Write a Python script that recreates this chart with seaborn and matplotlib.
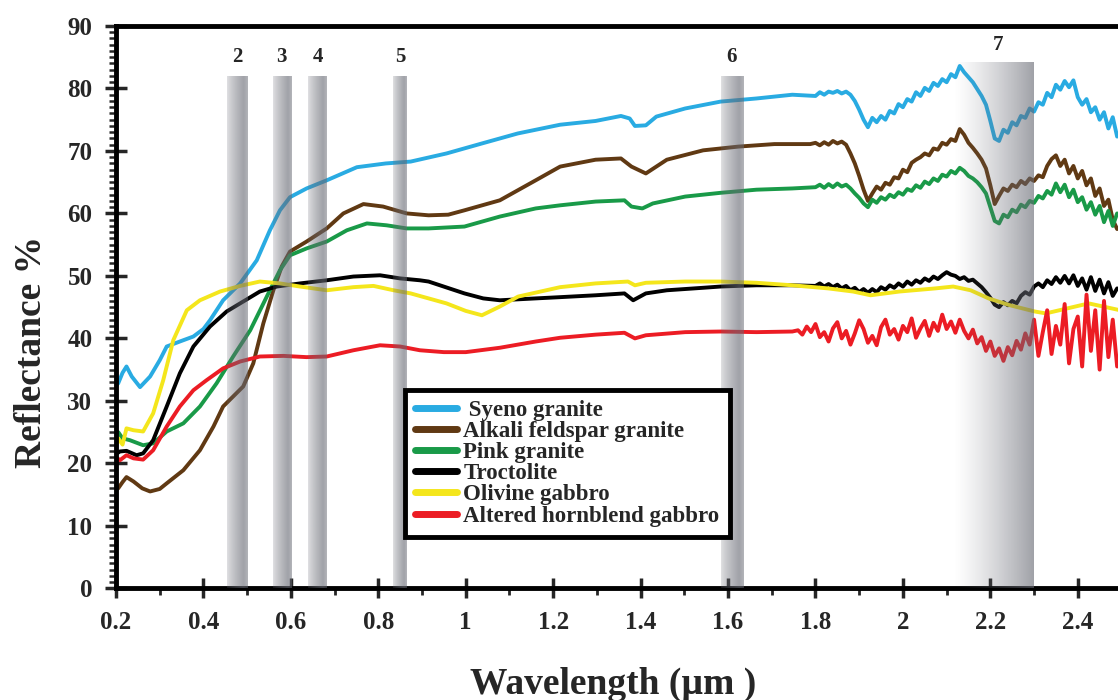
import numpy as np
import pandas as pd
import matplotlib
matplotlib.use("Agg")
import matplotlib.pyplot as plt
from matplotlib.lines import Line2D
from matplotlib.ticker import MultipleLocator, FixedLocator
import seaborn as sns

# ---------------- data ----------------
rocks = ["Syeno granite", "Alkali feldspar granite", "Pink granite",
         "Troctolite", "Olivine gabbro", "Altered hornblend gabbro"]
colors = ["#29abe2", "#603913", "#199a48", "#000000", "#f4e61c", "#ec1c24"]

syeno_wl = [0.200, 0.205, 0.215, 0.224, 0.236, 0.255, 0.278, 0.300, 0.316, 0.346, 0.377, 0.400,
            0.415, 0.445, 0.484, 0.522, 0.552, 0.575, 0.598, 0.636, 0.682, 0.751, 0.817, 0.874,
            0.956, 1.037, 1.119, 1.216, 1.297, 1.355, 1.375, 1.387, 1.412, 1.436, 1.502, 1.583,
            1.665, 1.747, 1.80, 1.81, 1.82, 1.83,
            1.84, 1.85, 1.86, 1.87, 1.88, 1.89, 1.90, 1.91, 1.92, 1.93, 1.94, 1.95, 1.96, 1.97,
            1.98, 1.99, 2.00, 2.01, 2.02, 2.03, 2.04, 2.05, 2.06, 2.07, 2.08, 2.09, 2.10, 2.11,
            2.12, 2.13, 2.14, 2.15, 2.16, 2.17, 2.18, 2.19, 2.20, 2.21, 2.22, 2.23, 2.24, 2.25,
            2.26, 2.27, 2.28, 2.29, 2.30, 2.31, 2.32, 2.33, 2.34, 2.35, 2.36, 2.37, 2.38, 2.39,
            2.40, 2.41, 2.42, 2.43, 2.44, 2.45, 2.46, 2.47, 2.48, 2.49]
syeno_refl = [32.5, 32.8, 34.5, 35.5, 33.9, 32.2, 33.9, 36.5, 38.7, 39.5, 40.3, 41.5,
              42.9, 46.1, 48.8, 52.5, 57.3, 60.5, 62.6, 64.0, 65.3, 67.4, 68.0, 68.3,
              69.6, 71.2, 72.8, 74.2, 74.8, 75.6, 75.2, 74.0, 74.1, 75.5, 76.8, 77.9,
              78.4, 79.0, 78.8, 79.4, 79.0, 79.5,
              79.3, 79.6, 79.2, 79.5, 79.0, 78.0, 76.6, 75.0, 73.8, 75.3, 74.6, 75.6, 75.0, 76.4,
              76.0, 77.5, 77.0, 78.3, 77.9, 79.4, 78.8, 80.1, 79.6, 80.9, 80.4, 81.5, 81.0, 82.3,
              81.8, 83.6, 82.6, 81.8, 81.0, 79.9, 78.8, 77.4, 74.8, 72.0, 71.6, 73.4, 72.9, 74.6,
              74.1, 75.6, 75.3, 76.8, 76.3, 77.8, 77.4, 79.3, 78.6, 80.6, 79.8, 81.2, 80.2, 81.3,
              78.6, 77.4, 78.3, 76.2, 77.0, 75.0, 76.2, 73.6, 75.4, 72.3]

alkali_wl = [0.200, 0.205, 0.215, 0.224, 0.240, 0.260, 0.278, 0.300, 0.316, 0.354, 0.392, 0.423,
             0.445, 0.468, 0.491, 0.514, 0.537, 0.560, 0.579, 0.598, 0.636, 0.682, 0.720, 0.766,
             0.811, 0.865, 0.915, 0.960, 0.997, 1.078, 1.160, 1.216, 1.297, 1.355, 1.379, 1.412,
             1.460, 1.543, 1.624, 1.706, 1.788,
             1.80, 1.81, 1.82, 1.83, 1.84, 1.85, 1.86, 1.87, 1.88, 1.89, 1.90, 1.91, 1.92, 1.93,
             1.94, 1.95, 1.96, 1.97, 1.98, 1.99, 2.00, 2.01, 2.02, 2.03, 2.04, 2.05, 2.06, 2.07,
             2.08, 2.09, 2.10, 2.11, 2.12, 2.13, 2.14, 2.15, 2.16, 2.17, 2.18, 2.19, 2.20, 2.21,
             2.22, 2.23, 2.24, 2.25, 2.26, 2.27, 2.28, 2.29, 2.30, 2.31, 2.32, 2.33, 2.34, 2.35,
             2.36, 2.37, 2.38, 2.39, 2.40, 2.41, 2.42, 2.43, 2.44, 2.45, 2.46, 2.47, 2.48, 2.49]
alkali_refl = [15.8, 16.0, 17.0, 17.8, 17.1, 16.0, 15.5, 15.9, 16.8, 18.9, 22.1, 25.9,
               29.1, 30.7, 32.3, 36.0, 42.4, 47.7, 51.5, 53.9, 55.5, 57.6, 60.0, 61.5,
               61.1, 60.0, 59.7, 59.8, 60.5, 62.1, 65.3, 67.5, 68.6, 68.8, 67.5, 66.4,
               68.6, 70.1, 70.7, 71.1, 71.1,
               71.3, 70.9, 71.4, 71.0, 71.6, 71.2, 71.5, 71.0, 69.6, 68.0, 66.0, 63.8, 62.0, 63.2,
               64.3, 63.8, 64.9, 64.6, 65.8, 65.6, 67.0, 66.6, 68.1, 68.6, 69.0, 69.6, 69.3, 70.4,
               70.2, 71.3, 71.0, 71.9, 71.6, 73.5, 72.6, 71.3, 70.5, 69.6, 68.6, 67.2, 64.5, 61.5,
               62.8, 64.0, 63.6, 64.6, 64.2, 65.2, 64.7, 65.6, 65.2, 66.1, 65.8, 67.6, 68.7, 69.3,
               67.6, 68.6, 66.4, 67.6, 65.6, 66.8, 64.5, 65.6, 62.8, 64.0, 61.2, 62.2, 59.0, 57.5]

pink_wl = [0.200, 0.205, 0.215, 0.232, 0.262, 0.285, 0.316, 0.354, 0.392, 0.430, 0.468, 0.507,
           0.545, 0.575, 0.598, 0.636, 0.682, 0.728, 0.774, 0.819, 0.865, 0.915, 0.997, 1.078,
           1.160, 1.216, 1.297, 1.363, 1.379, 1.404, 1.428, 1.502, 1.583, 1.665, 1.747,
           1.80, 1.81, 1.82, 1.83, 1.84, 1.85, 1.86, 1.87, 1.88, 1.89, 1.90, 1.91, 1.92, 1.93,
           1.94, 1.95, 1.96, 1.97, 1.98, 1.99, 2.00, 2.01, 2.02, 2.03, 2.04, 2.05, 2.06, 2.07,
           2.08, 2.09, 2.10, 2.11, 2.12, 2.13, 2.14, 2.15, 2.16, 2.17, 2.18, 2.19, 2.20, 2.21,
           2.22, 2.23, 2.24, 2.25, 2.26, 2.27, 2.28, 2.29, 2.30, 2.31, 2.32, 2.33, 2.34, 2.35,
           2.36, 2.37, 2.38, 2.39, 2.40, 2.41, 2.42, 2.43, 2.44, 2.45, 2.46, 2.47, 2.48, 2.49]
pink_refl = [24.5, 25.0, 24.0, 23.7, 22.9, 23.2, 25.1, 26.4, 29.1, 32.8, 37.1, 41.3,
             46.7, 50.9, 53.3, 54.4, 55.5, 57.3, 58.4, 58.1, 57.6, 57.6, 57.9, 59.5,
             60.8, 61.3, 61.9, 62.1, 61.1, 60.8, 61.6, 62.7, 63.3, 63.8, 64.0,
             64.2, 64.6, 64.1, 64.7, 64.2, 64.8, 64.3, 64.6, 64.0, 63.2, 62.5, 61.6, 61.0, 62.2,
             61.7, 62.6, 62.2, 63.0, 62.6, 63.4, 63.0, 63.9, 63.6, 64.5, 64.1, 65.1, 64.7, 65.6,
             65.2, 66.2, 65.9, 66.8, 66.4, 67.3, 66.8, 66.0, 65.6, 65.0, 64.2, 63.2, 61.0, 58.8,
             58.4, 59.8, 59.4, 60.6, 60.2, 61.4, 61.0, 62.0, 61.7, 62.8, 62.4, 63.6, 63.0, 64.8,
             63.4, 64.6, 62.6, 63.8, 61.8, 62.6, 60.6, 61.8, 59.8, 61.2, 58.6, 60.4, 58.0, 60.0]

troct_wl = [0.200, 0.209, 0.224, 0.247, 0.262, 0.285, 0.316, 0.346, 0.377, 0.415, 0.453, 0.491,
            0.529, 0.568, 0.621, 0.682, 0.743, 0.804, 0.850, 0.895, 0.915, 0.997, 1.040, 1.078,
            1.160, 1.216, 1.297, 1.363, 1.383, 1.412, 1.460, 1.543, 1.583, 1.665, 1.747,
            1.80, 1.81, 1.82, 1.83, 1.84, 1.85, 1.86, 1.87, 1.88, 1.89, 1.90, 1.91, 1.92, 1.93,
            1.94, 1.95, 1.96, 1.97, 1.98, 1.99, 2.00, 2.01, 2.02, 2.03, 2.04, 2.05, 2.06, 2.07,
            2.08, 2.09, 2.10, 2.11, 2.12, 2.13, 2.14, 2.15, 2.16, 2.17, 2.18, 2.19, 2.20, 2.21,
            2.22, 2.23, 2.24, 2.25, 2.26, 2.27, 2.28, 2.29, 2.30, 2.31, 2.32, 2.33, 2.34, 2.35,
            2.36, 2.37, 2.38, 2.39, 2.40, 2.41, 2.42, 2.43, 2.44, 2.45, 2.46, 2.47, 2.48, 2.49]
troct_refl = [21.5, 21.9, 22.0, 21.3, 21.6, 23.7, 29.1, 34.4, 38.7, 41.9, 44.3, 45.9,
              47.5, 48.3, 48.8, 49.3, 49.9, 50.1, 49.6, 49.3, 49.1, 47.2, 46.4, 46.1,
              46.4, 46.6, 46.9, 47.2, 46.1, 47.2, 47.7, 48.1, 48.3, 48.5, 48.5,
              48.4, 48.8, 48.3, 48.7, 48.2, 48.6, 48.0, 48.4, 47.7, 48.1, 47.4, 47.9, 47.3, 47.9,
              47.4, 48.2, 47.8, 48.5, 48.1, 48.8, 48.3, 49.1, 48.6, 49.3, 48.9, 49.6, 49.2, 49.9,
              49.5, 50.1, 50.6, 50.2, 50.0, 49.5, 49.8, 49.2, 49.4, 48.8, 48.2, 47.4, 46.5, 45.4,
              45.0, 45.8, 45.3, 46.0, 45.6, 46.8, 47.4, 47.0, 48.3, 48.8, 48.2, 49.3, 48.7, 49.8,
              48.9, 50.0, 48.8, 50.1, 48.4, 49.6, 47.8, 49.8, 47.6, 49.4, 47.2, 49.0, 46.8, 48.0]

olivine_wl = [0.200, 0.205, 0.215, 0.224, 0.240, 0.262, 0.285, 0.308, 0.331, 0.362, 0.392, 0.438,
              0.484, 0.529, 0.575, 0.621, 0.682, 0.743, 0.789, 0.835, 0.874, 0.956, 1.000, 1.037,
              1.078, 1.120, 1.216, 1.297, 1.371, 1.387, 1.412, 1.502, 1.583, 1.665, 1.747, 1.829,
              1.886, 1.926, 1.992, 2.074, 2.115, 2.155, 2.196, 2.245, 2.302, 2.327, 2.376, 2.425,
              2.458, 2.497]
olivine_refl = [22.5, 24.0, 23.0, 25.6, 25.3, 25.1, 28.0, 33.3, 39.7, 44.5, 46.1, 47.5,
                48.4, 49.1, 48.8, 48.3, 47.7, 48.2, 48.4, 47.7, 47.2, 45.6, 44.4, 43.7,
                45.1, 46.7, 48.2, 48.8, 49.1, 48.5, 48.9, 49.1, 49.1, 48.9, 48.5, 48.0,
                47.5, 46.9, 47.5, 48.0, 48.3, 47.7, 46.4, 45.3, 44.3, 44.0, 44.8, 45.6,
                45.1, 44.5]

altered_wl = [0.200, 0.209, 0.224, 0.240, 0.262, 0.285, 0.316, 0.346, 0.377, 0.407, 0.445, 0.484,
              0.529, 0.583, 0.636, 0.682, 0.743, 0.804, 0.850, 0.895, 0.950, 1.000, 1.078, 1.160,
              1.216, 1.297, 1.363, 1.387, 1.412, 1.502, 1.583, 1.665, 1.747,
              1.76, 1.77, 1.78, 1.79, 1.80, 1.81, 1.82, 1.83, 1.84, 1.85, 1.86, 1.87, 1.88, 1.89,
              1.90, 1.91, 1.92, 1.93, 1.94, 1.95, 1.96, 1.97, 1.98, 1.99, 2.00, 2.01, 2.02, 2.03,
              2.04, 2.05, 2.06, 2.07, 2.08, 2.09, 2.10, 2.11, 2.12, 2.13, 2.14, 2.15, 2.16, 2.17,
              2.18, 2.19, 2.20, 2.21, 2.22, 2.23, 2.24, 2.25, 2.26, 2.27, 2.28, 2.29, 2.30, 2.31,
              2.32, 2.33, 2.34, 2.35, 2.36, 2.37, 2.38, 2.39, 2.40, 2.41, 2.42, 2.43, 2.44, 2.45,
              2.46, 2.47, 2.48, 2.49]
altered_refl = [21.0, 20.5, 21.3, 20.8, 20.6, 22.1, 25.9, 29.1, 31.7, 33.3, 35.2, 36.3,
                37.1, 37.2, 37.0, 37.1, 38.1, 38.9, 38.7, 38.1, 37.8, 37.8, 38.5, 39.5,
                40.1, 40.6, 40.9, 40.0, 40.5, 41.0, 41.1, 41.0, 41.1,
                41.3, 40.6, 41.9, 41.0, 42.3, 40.2, 41.0, 39.5, 41.6, 42.6, 40.0, 41.2, 39.0, 40.8,
                42.9, 41.5, 39.3, 40.4, 38.9, 41.8, 43.0, 40.6, 41.5, 39.8, 42.0, 41.0, 43.2, 40.1,
                41.6, 42.8, 40.4, 42.5, 41.2, 43.8, 41.5, 42.7, 40.9, 43.0, 41.2, 40.0, 41.4, 39.2,
                40.2, 38.0, 39.5, 37.2, 38.4, 36.4, 38.6, 37.3, 39.6, 38.2, 40.8, 39.0, 43.0, 37.2,
                41.0, 44.5, 37.5, 42.0, 39.0, 45.5, 36.0, 41.5, 43.5, 35.5, 47.0, 38.0, 44.5, 35.0,
                46.0, 37.0, 43.0, 35.5]

# absorption bands (wavelength ranges, µm) and their labels
band_labels = ["2", "3", "4", "5", "6", "7"]
band_start = [0.453, 0.558, 0.640, 0.834, 1.583, 2.115]
band_end = [0.500, 0.600, 0.682, 0.866, 1.634, 2.298]

x_ticks = [0.2, 0.4, 0.6, 0.8, 1.0, 1.2, 1.4, 1.6, 1.8, 2.0, 2.2, 2.4]
y_ticks = [0, 10, 20, 30, 40, 50, 60, 70, 80, 90]

# ---------------- build long table ----------------
series = [(syeno_wl, syeno_refl), (alkali_wl, alkali_refl), (pink_wl, pink_refl),
          (troct_wl, troct_refl), (olivine_wl, olivine_refl), (altered_wl, altered_refl)]
frames = []
for name, (wl, rf) in zip(rocks, series):
    frames.append(pd.DataFrame({"wl": wl, "refl": rf, "rock": name}))
df = pd.concat(frames, ignore_index=True)

# ---------------- style ----------------
sns.set_style("white")
plt.rcParams["font.family"] = ["Liberation Serif", "DejaVu Serif"]
plt.rcParams["font.weight"] = "bold"

fig = plt.figure(figsize=(11.18, 7.0), dpi=100)
ax = fig.add_axes([116 / 1118, (700 - 588.3) / 700, 1 - 116 / 1118, (588.3 - 26) / 700])

sns.lineplot(data=df, x="wl", y="refl", hue="rock", hue_order=rocks,
             palette=dict(zip(rocks, colors)), estimator=None, sort=False,
             linewidth=2.8, legend=False, ax=ax)

# gradient shaded bands drawn over the curves
def band_image(kind):
    t = np.linspace(0, 1, 80)
    if kind == "wide":
        a = 0.62 * t ** 1.3
    else:
        a = np.where(t < 0.8, 0.2 + 0.42 * (t / 0.8) ** 0.8, 0.62 - 0.6 * (t - 0.8))
    img = np.zeros((1, len(t), 4))
    img[..., 0] = 0.40
    img[..., 1] = 0.41
    img[..., 2] = 0.45
    img[..., 3] = a
    return img

for i, (lab, x0, x1) in enumerate(zip(band_labels, band_start, band_end)):
    wide = (x1 - x0) > 0.1
    top = 84.1 if wide else 81.8
    ax.imshow(band_image("wide" if wide else "narrow"), extent=[x0, x1, 0, top],
              aspect="auto", interpolation="bilinear", zorder=3)
    ax.text((x0 + x1) / 2 + (0.01 if wide else 0.0), top + (1.3 if wide else 1.6), lab,
            ha="center", va="bottom", fontsize=15, fontweight="bold", zorder=5)

ax.set_xlim(0.2, 2.492)
ax.set_ylim(0, 90)

ax.xaxis.set_major_locator(FixedLocator(x_ticks))
ax.set_xticklabels([f"{v:g}" for v in x_ticks])
ax.xaxis.set_minor_locator(MultipleLocator(0.1))
ax.yaxis.set_major_locator(FixedLocator(y_ticks))
ax.yaxis.set_minor_locator(MultipleLocator(1))

ax.tick_params(axis="x", which="major", direction="inout", length=14, width=2.5,
               labelsize=18, pad=9, bottom=True)
ax.tick_params(axis="x", which="minor", direction="out", length=5, width=2, bottom=True)
ax.tick_params(axis="y", which="major", direction="inout", length=16, width=2.5,
               labelsize=18, pad=9, left=True)
ax.tick_params(axis="y", which="minor", direction="out", length=5, width=1.8, left=True)
for lbl in ax.get_xticklabels() + ax.get_yticklabels():
    lbl.set_fontweight("bold")

for side in ["left", "bottom", "top"]:
    ax.spines[side].set_linewidth(3.5)
    ax.spines[side].set_color("black")
ax.spines["right"].set_visible(False)

ax.set_xlabel("Wavelength (µm )", fontsize=27, fontweight="bold")
ax.set_ylabel("Reflectance %", fontsize=27, fontweight="bold")
ax.xaxis.set_label_coords(0.496, -0.140)
ax.yaxis.set_label_coords(-0.067, 0.42)

handles = [Line2D([0], [0], color=c, linewidth=5) for c in colors]
labels = [" " + rocks[0]] + rocks[1:]
leg = ax.legend(handles, labels, loc="upper left", bbox_to_anchor=(0.2884, 0.3527),
                borderaxespad=0, frameon=True, fancybox=False, edgecolor="black",
                framealpha=1.0,
                prop={"family": "Liberation Serif", "weight": "bold", "size": 16.5},
                handlelength=1.8, handletextpad=0.3, labelspacing=0.0, borderpad=0.45)
leg.get_frame().set_linewidth(3.5)
leg.get_frame().set_edgecolor("black")
leg.set_zorder(6)

fig.savefig("out.png", dpi=100)
